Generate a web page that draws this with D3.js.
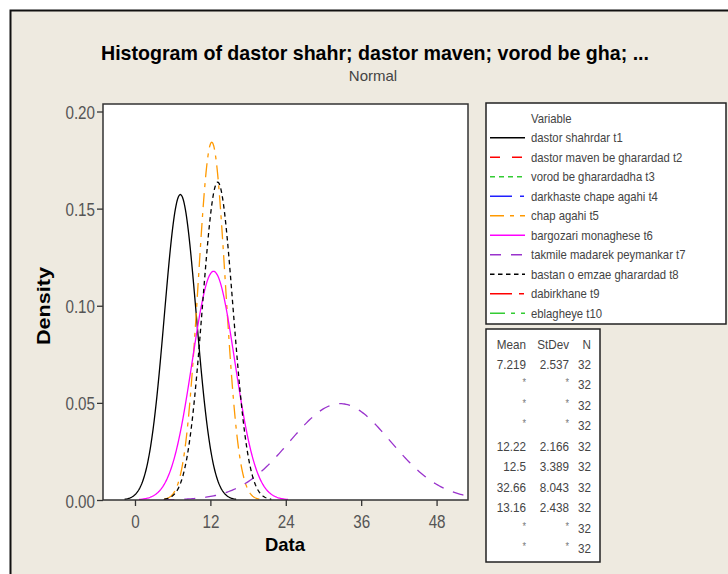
<!DOCTYPE html>
<html><head><meta charset="utf-8">
<script src="https://cdn.jsdelivr.net/npm/d3@7"></script>
<style>
html,body{margin:0;padding:0;background:#fff;}
svg{display:block;}
text{font-family:"Liberation Sans",Arial,sans-serif;}
</style></head>
<body>
<svg id="c" width="728" height="574"></svg>
<script>
// ---- data ----
const variables = ["dastor shahrdar t1","dastor maven be gharardad t2","vorod be gharardadha t3","darkhaste chape agahi t4","chap agahi t5","bargozari monaghese  t6","takmile madarek peymankar t7","bastan o emzae gharardad t8","dabirkhane t9","eblagheye t10"];
const means  = [7.219, null, null, null, 12.22, 12.5, 32.66, 13.16, null, null];
const stdevs = [2.537, null, null, null, 2.166, 3.389, 8.043, 2.438, null, null];
const counts = [32,32,32,32,32,32,32,32,32,32];
const meanLabels  = ["7.219","*","*","*","12.22","12.5","32.66","13.16","*","*"];
const stdevLabels = ["2.537","*","*","*","2.166","3.389","8.043","2.438","*","*"];
const xTicks = [0,12,24,36,48];
const yTicks = [0.00,0.05,0.10,0.15,0.20];
const colors = ["#000000","#ff0000","#33cc33","#2020ff","#ff9900","#ff00ff","#9933cc","#000000","#ff0000","#33cc33"];
const dashes = [null,"10,12","5,4","22,8,4,8","14,6,4,6",null,"11,10","4.5,3.5","22,7,5,7","15,6,4,6"];

const svg = d3.select("#c");
svg.append("rect").attr("x",10.5).attr("y",10.5).attr("width",730).attr("height",580)
  .attr("fill","#eeeae0").attr("stroke","#111").attr("stroke-width",2);

const L=103, R=468, T=104, B=500;
const x = d3.scaleLinear().domain([-5.09,53.0]).range([L,R]);
const y = d3.scaleLinear().domain([0,0.2]).range([B,111.5]);

svg.append("rect").attr("x",L).attr("y",T).attr("width",R-L).attr("height",B-T).attr("fill","#fff");
svg.append("defs").append("clipPath").attr("id","clip").append("rect")
  .attr("x",L).attr("y",T).attr("width",R-L).attr("height",B-T);

// fitted normal curves from the table's Mean / StDev
const pdf = (v,m,s)=>Math.exp(-0.5*((v-m)/s)**2)/(s*Math.sqrt(2*Math.PI));
const line = d3.line().x(d=>x(d[0])).y(d=>y(d[1]));
const g = svg.append("g").attr("clip-path","url(#clip)");
variables.forEach((v,i)=>{
  if(means[i]==null) return;
  const m=means[i], s=stdevs[i];
  const lo=Math.max(m-3.5*s,-5.09), hi=Math.min(m+3.5*s,53.0);
  const pts=d3.range(0,201).map(k=>{const xv=lo+(hi-lo)*k/200; return [xv,pdf(xv,m,s)];});
  g.append("path").datum(pts).attr("d",line).attr("fill","none")
   .attr("stroke",colors[i]).attr("stroke-width",1.3)
   .attr("stroke-dasharray",dashes[i]);
});

svg.append("rect").attr("x",L).attr("y",T).attr("width",R-L).attr("height",B-T)
  .attr("fill","none").attr("stroke","#333").attr("stroke-width",1.5);

// axes
const SX=0.8;
const xa = svg.append("g").attr("transform",`translate(0,${B})`)
  .call(d3.axisBottom(x).tickValues(xTicks).tickSize(6).tickSizeOuter(0).tickFormat(d3.format("d")));
const ya = svg.append("g").attr("transform",`translate(${L},0)`)
  .call(d3.axisLeft(y).tickValues(yTicks).tickSize(6).tickSizeOuter(0).tickFormat(d3.format(".2f")));
[xa,ya].forEach(a=>{
  a.select(".domain").remove();
  a.selectAll(".tick line").attr("stroke","#333").attr("stroke-width",1.3);
  a.selectAll(".tick text").attr("fill","#555").attr("font-size",19)
   .attr("font-family","'Liberation Sans',Arial,sans-serif");
});
xa.selectAll(".tick text").attr("y",null).attr("dy",null)
  .attr("transform",`translate(0,28) scale(${SX},1)`);
ya.selectAll(".tick text").attr("x",null).attr("dy",null)
  .attr("transform",`translate(-8,7) scale(${SX},1)`);

// titles
svg.append("text").attr("x",375).attr("y",60).attr("text-anchor","middle")
  .attr("font-weight","bold").attr("font-size",21).attr("fill","#000")
  .attr("textLength",548).attr("lengthAdjust","spacingAndGlyphs")
  .text("Histogram of dastor shahr; dastor maven; vorod be gha; ...");
svg.append("text").attr("x",373).attr("y",81).attr("text-anchor","middle")
  .attr("font-size",15).attr("fill","#444").text("Normal");
svg.append("text").attr("x",285).attr("y",551).attr("text-anchor","middle")
  .attr("font-weight","bold").attr("font-size",19).attr("fill","#000")
  .attr("textLength",40).attr("lengthAdjust","spacingAndGlyphs").text("Data");
svg.append("text").attr("transform","translate(50,306) rotate(-90)").attr("text-anchor","middle")
  .attr("font-weight","bold").attr("font-size",18).attr("fill","#000")
  .attr("textLength",78).attr("lengthAdjust","spacingAndGlyphs").text("Density");

// condensed text helper
function ctext(sel,xx,yy,t,opt){
  const o=Object.assign({size:13,sx:0.87,anchor:"start",fill:"#444"},opt||{});
  return sel.append("text").attr("transform",`translate(${xx},${yy}) scale(${o.sx},1)`)
    .attr("text-anchor",o.anchor).attr("font-size",o.size).attr("fill",o.fill).text(t);
}

// legend
const lg = svg.append("g");
lg.append("rect").attr("x",486).attr("y",103).attr("width",240).attr("height",221)
  .attr("fill","#fff").attr("stroke","#222").attr("stroke-width",1.5);
ctext(lg,531,123,"Variable");
const rowY = i => 137.7 + i*19.5;
variables.forEach((v,i)=>{
  lg.append("line").attr("x1",490).attr("x2",525).attr("y1",rowY(i)).attr("y2",rowY(i))
    .attr("stroke",colors[i]).attr("stroke-width",1.5).attr("stroke-dasharray",dashes[i]);
  ctext(lg,531,rowY(i)+4.5,v);
});

// stats table
const st = svg.append("g");
st.append("rect").attr("x",486).attr("y",329).attr("width",114).attr("height",233)
  .attr("fill","#fff").attr("stroke","#222").attr("stroke-width",1.5);
[["Mean",526],["StDev",569],["N",591]].forEach(([t,xx])=>{
  ctext(st,xx,348.5,t,{anchor:"end",sx:0.9});
});
const sY = i => 368.5 + i*20.5;
variables.forEach((v,i)=>{
  const star = meanLabels[i]==="*";
  ctext(st,526,star?sY(i)-3:sY(i),meanLabels[i],{anchor:"end",sx:0.9,size:star?10:13,fill:star?"#777":"#444"});
  ctext(st,569,star?sY(i)-3:sY(i),stdevLabels[i],{anchor:"end",sx:0.9,size:star?10:13,fill:star?"#777":"#444"});
  ctext(st,591,sY(i),String(counts[i]),{anchor:"end",sx:0.9});
});
</script>
</body></html>
